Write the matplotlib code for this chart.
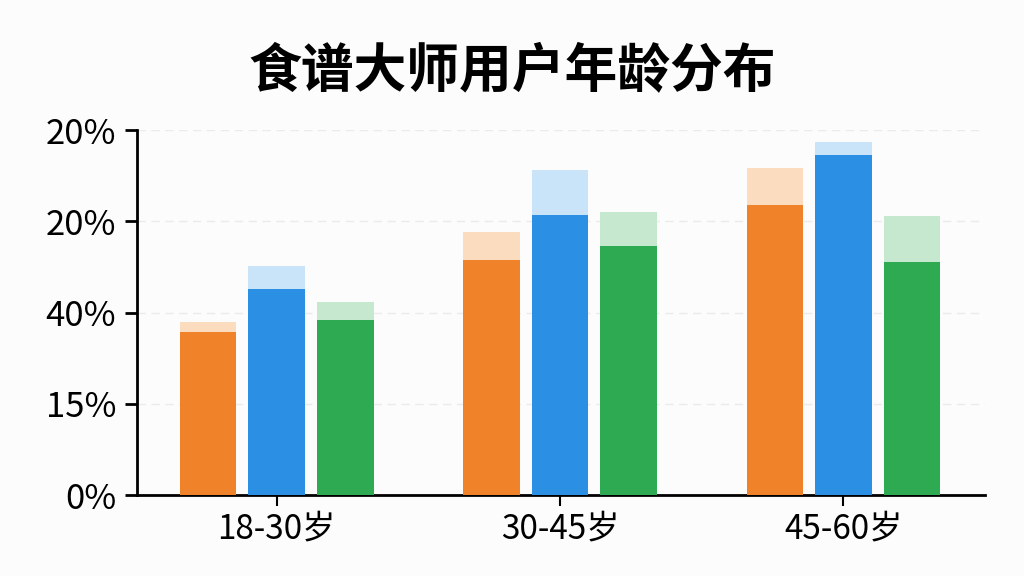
import matplotlib
matplotlib.use('Agg')
import matplotlib.pyplot as plt
import numpy as np

plt.rcParams['font.family'] = ['Noto Sans CJK SC', 'DejaVu Sans']

groups = ['18-30岁', '30-45岁', '45-60岁']
ytick_labels = ['0%', '15%', '40%', '20%', '20%']

# solid part and lighter top for each series (in tick units)
orange_solid = [1.79, 2.58, 3.18]
orange_top = [1.90, 2.88, 3.58]
blue_solid = [2.26, 3.07, 3.73]
blue_top = [2.51, 3.56, 3.87]
green_solid = [1.92, 2.73, 2.55]
green_top = [2.12, 3.10, 3.06]


def chart():
    fig = plt.figure(figsize=(10.24, 5.76), dpi=100)
    fig.patch.set_facecolor('#fcfcfc')
    ax = fig.add_axes([0.1338, 0.1406, 0.8282, 0.6337])
    ax.set_facecolor('#fcfcfc')

    x = np.arange(len(groups))
    w = 0.2
    off = 0.242
    series = [
        (orange_solid, orange_top, '#f0822a', '#fbdcbf'),
        (blue_solid, blue_top, '#2b8fe3', '#c9e3f8'),
        (green_solid, green_top, '#2eaa52', '#c6e8cf'),
    ]
    for i, (solid, top, c, lc) in enumerate(series):
        pos = x + (i - 1) * off
        ax.bar(pos, top, w, color=lc, zorder=2)
        ax.bar(pos, solid, w, color=c, zorder=3)

    ax.set_xlim(-0.493, 2.5)
    ax.set_ylim(0, 4)
    ax.set_yticks(range(5))
    ax.set_yticklabels(ytick_labels, fontsize=25, fontweight='medium')
    ax.set_xticks(x)
    ax.set_xticklabels(groups, fontsize=24, fontweight='medium')
    ax.tick_params(axis='y', length=9, width=2, pad=6)
    ax.tick_params(axis='x', length=8, width=1.5, pad=4)
    ax.grid(axis='y', color='#ebebeb', linestyle=(0, (6, 4)), linewidth=1, zorder=0)

    for s in ['top', 'right']:
        ax.spines[s].set_visible(False)
    ax.spines['left'].set_linewidth(2)
    ax.spines['bottom'].set_linewidth(2)

    fig.text(0.5, 0.875, '食谱大师用户年龄分布', ha='center', va='center',
             fontsize=38, fontweight='bold')

    fig.savefig('out.png', dpi=100, facecolor=fig.get_facecolor())


if __name__ == '__main__':
    chart()
